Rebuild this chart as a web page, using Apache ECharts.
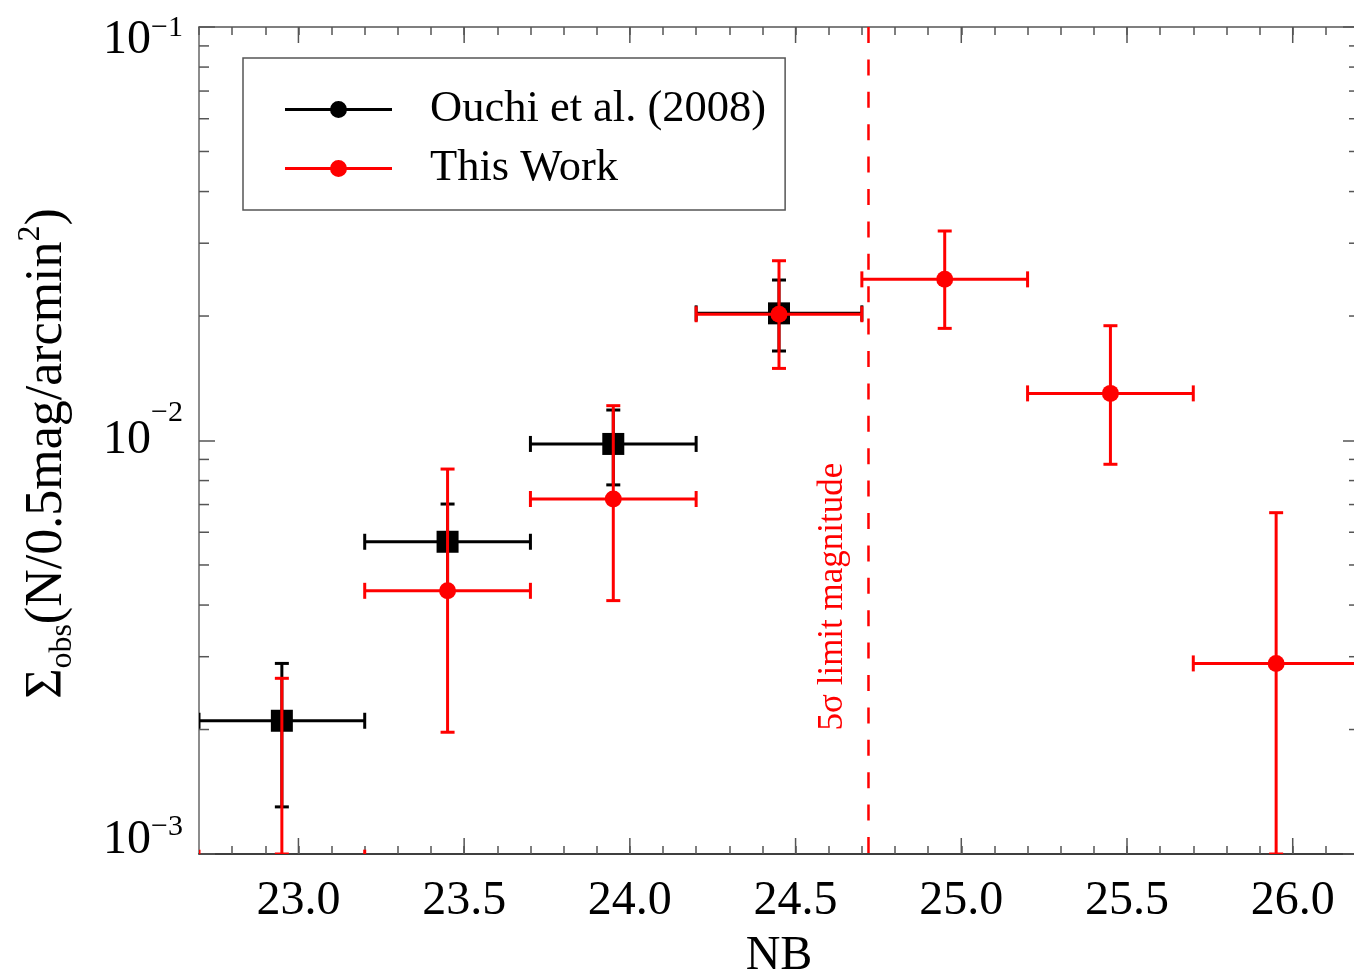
<!DOCTYPE html>
<html>
<head>
<meta charset="utf-8">
<script src="https://cdn.jsdelivr.net/npm/echarts@6/dist/echarts.min.js"></script>
<style>
  html, body { margin: 0; padding: 0; background: #fff; }
  #chart { width: 1354px; height: 976px; }
</style>
</head>
<body>
<div id="chart"></div>
<script>
// ---------------- data ----------------
const ouchiMag   = [22.95, 23.45, 23.95, 24.45];
const ouchiMagLo = [22.70, 23.20, 23.70, 24.20];
const ouchiMagHi = [23.20, 23.70, 24.20, 24.70];
const ouchiVal   = [0.00210, 0.00569, 0.00981, 0.02030];
const ouchiHi    = [0.00289, 0.00702, 0.01185, 0.02444];
const ouchiLo    = [0.00130, 0.00436, 0.00781, 0.01646];

const thisMag   = [22.95, 23.45, 23.95, 24.45, 24.95, 25.45, 25.95];
const thisMagLo = [22.70, 23.20, 23.70, 24.20, 24.70, 25.20, 25.70];
const thisMagHi = [23.20, 23.70, 24.20, 24.70, 25.20, 25.70, 26.20];
const thisVal   = [0.00098, 0.00433, 0.00722, 0.02020, 0.02453, 0.01300, 0.00289];
const thisHi    = [0.00266, 0.00853, 0.01214, 0.02721, 0.03211, 0.01895, 0.00669];
const thisLo    = [0.00100, 0.00197, 0.00410, 0.01494, 0.01867, 0.00876, 0.00100];

const limitMag = 24.72;          // 5 sigma limit magnitude
const limitLabelY = 0.00199;     // where the rotated label starts

const xMajorTicks = [23.0, 23.5, 24.0, 24.5, 25.0, 25.5, 26.0];
const yMinorTicks = [0.002, 0.003, 0.004, 0.005, 0.006, 0.007, 0.008, 0.009,
                     0.02, 0.03, 0.04, 0.05, 0.06, 0.07, 0.08, 0.09];
const X_MIN = 22.7, X_MAX = 26.2, Y_MIN = 0.001, Y_MAX = 0.1;

// ---------------- chart ----------------
const FONT = "'Liberation Serif', 'DejaVu Serif', serif";
const TICK = '#555';
const chart = echarts.init(document.getElementById('chart'), null, { renderer: 'canvas' });

function rows(mag, val, hi, lo, mlo, mhi) {
  return mag.map((m, i) => [m, val[i], hi[i], lo[i], mlo[i], mhi[i]]);
}

function errRender(color, symbol) {
  const CAP = 7;
  return function (params, api) {
    const cs = params.coordSys;
    const m = api.value(0), v = api.value(1), hi = api.value(2), lo = api.value(3);
    const ml = api.value(4), mh = api.value(5);
    const c = api.coord([m, v]);
    const cH = api.coord([m, hi]);
    const cL = api.coord([m, lo]);
    const pl = api.coord([ml, v]);
    const pr = api.coord([mh, v]);
    const st = { stroke: color, lineWidth: 3, fill: null };
    const ch = [
      { type: 'line', shape: { x1: c[0], y1: cH[1], x2: c[0], y2: cL[1] }, style: st },
      { type: 'line', shape: { x1: c[0] - CAP, y1: cH[1], x2: c[0] + CAP, y2: cH[1] }, style: st },
      { type: 'line', shape: { x1: c[0] - CAP, y1: cL[1], x2: c[0] + CAP, y2: cL[1] }, style: st },
      { type: 'line', shape: { x1: pl[0], y1: c[1], x2: pr[0], y2: c[1] }, style: st },
      { type: 'line', shape: { x1: pl[0], y1: c[1] - CAP - 1, x2: pl[0], y2: c[1] + CAP + 1 }, style: st },
      { type: 'line', shape: { x1: pr[0], y1: c[1] - CAP - 1, x2: pr[0], y2: c[1] + CAP + 1 }, style: st }
    ];
    const inside = c[1] >= cs.y - 0.5 && c[1] <= cs.y + cs.height + 0.5;
    if (inside) {
      if (symbol === 'square') {
        ch.push({ type: 'rect', shape: { x: c[0] - 11, y: c[1] - 11, width: 22, height: 22 }, style: { fill: color } });
      } else {
        ch.push({ type: 'circle', shape: { cx: c[0], cy: c[1], r: 8.5 }, style: { fill: color } });
      }
    }
    return { type: 'group', children: ch };
  };
}

const LEGEND_ICON = 'path://M0,7 L107,7 L107,10 L0,10 Z M45,8.5 A8.5,8.5 0 1 1 62,8.5 A8.5,8.5 0 1 1 45,8.5 Z';

const option = {
  backgroundColor: '#fff',
  animation: false,
  grid: { left: 199, top: 27, width: 1160, height: 827, containLabel: false, outerBoundsMode: 'none' },
  legend: {
    orient: 'vertical', left: 243, top: 58,
    padding: [29, 19, 19, 42], itemGap: 14,
    itemWidth: 107, itemHeight: 17,
    borderColor: '#555', borderWidth: 1.5, backgroundColor: '#fff',
    selectedMode: false,
    textStyle: { fontFamily: FONT, fontSize: 44.5, color: '#000', padding: [0, 0, 0, 33], lineHeight: 44 },
    data: [
      { name: 'Ouchi et al. (2008)', icon: LEGEND_ICON },
      { name: 'This Work', icon: LEGEND_ICON }
    ]
  },
  xAxis: [
    {
      type: 'value', position: 'bottom', min: X_MIN, max: X_MAX, interval: 0.1,
      name: 'NB', nameLocation: 'middle', nameGap: 78,
      nameTextStyle: { fontFamily: FONT, fontSize: 48, color: '#000' },
      axisLine: { show: true, lineStyle: { color: '#000', width: 1.5 } },
      axisTick: { show: true, inside: true, length: 8, lineStyle: { color: TICK, width: 1.5 } },
      splitLine: { show: false },
      axisLabel: {
        margin: 23, fontFamily: FONT, fontSize: 48, color: '#000', lineHeight: 48,
        showMinLabel: false, showMaxLabel: false,
        formatter: function (v) {
          return xMajorTicks.some(t => Math.abs(t - v) < 1e-6) ? v.toFixed(1) : '';
        }
      }
    },
    {
      type: 'value', position: 'top', min: X_MIN, max: X_MAX, interval: 0.1,
      axisLine: { show: true, lineStyle: { color: '#555', width: 1.5 } },
      axisTick: { show: true, inside: true, length: 8, lineStyle: { color: TICK, width: 1.5 } },
      axisLabel: { show: false }, splitLine: { show: false }
    }
  ],
  yAxis: [
    {
      type: 'log', logBase: 10, min: Y_MIN, max: Y_MAX, position: 'left',
      name: '{a|Σ}{sub|obs}{a|(N/0.5mag/arcmin}{sup|2}{a|)}',
      nameLocation: 'middle', nameGap: 120,
      nameTextStyle: {
        fontFamily: FONT, color: '#000', padding: [0, 26, 0, 0],
        rich: {
          a: { fontFamily: FONT, fontSize: 52, lineHeight: 64, color: '#000' },
          sub: { fontFamily: FONT, fontSize: 32, lineHeight: 64, verticalAlign: 'bottom', color: '#000' },
          sup: { fontFamily: FONT, fontSize: 32, lineHeight: 32, verticalAlign: 'top', color: '#000' }
        }
      },
      axisLine: { show: true, lineStyle: { color: '#666', width: 1.5 } },
      axisTick: { show: true, inside: true, length: 16, lineStyle: { color: TICK, width: 1.5 } },
      splitLine: { show: false },
      axisLabel: {
        margin: 16, color: '#000',
        formatter: function (v) {
          const e = Math.round(Math.log10(v));
          const k = v >= Y_MAX * 0.999 ? 't' : (v <= Y_MIN * 1.001 ? 'd' : 'm');
          return '{b' + k + '|10}{s' + k + '|−' + (-e) + '}';
        },
        rich: {
          bm: { fontFamily: FONT, fontSize: 48, lineHeight: 84, color: '#000' },
          sm: { fontFamily: FONT, fontSize: 30, lineHeight: 30, verticalAlign: 'top', color: '#000' },
          bt: { fontFamily: FONT, fontSize: 48, lineHeight: 80, color: '#000', padding: [26, 0, 0, 0] },
          st: { fontFamily: FONT, fontSize: 30, lineHeight: 30, verticalAlign: 'top', color: '#000', padding: [26, 0, 0, 0] },
          bd: { fontFamily: FONT, fontSize: 48, lineHeight: 84, color: '#000', padding: [0, 0, 28, 0] },
          sd: { fontFamily: FONT, fontSize: 30, lineHeight: 30, verticalAlign: 'top', color: '#000' }
        }
      }
    },
    {
      type: 'log', logBase: 10, min: Y_MIN, max: Y_MAX, position: 'right',
      axisLine: { show: true, lineStyle: { color: '#555', width: 1.5 } },
      axisTick: { show: true, inside: true, length: 16, lineStyle: { color: TICK, width: 1.5 } },
      axisLabel: { show: false }, splitLine: { show: false }
    }
  ],
  series: [
    {
      name: 'xMajorTicks', type: 'custom', silent: true, z: 1,
      data: xMajorTicks.map(v => [v, Y_MIN]),
      encode: { x: 0, y: 1 },
      renderItem: function (params, api) {
        const cs = params.coordSys;
        const px = api.coord([api.value(0), Y_MIN])[0];
        const st = { stroke: TICK, lineWidth: 1.5 };
        return { type: 'group', children: [
          { type: 'line', shape: { x1: px, y1: cs.y + cs.height, x2: px, y2: cs.y + cs.height - 16 }, style: st },
          { type: 'line', shape: { x1: px, y1: cs.y, x2: px, y2: cs.y + 16 }, style: st }
        ] };
      }
    },
    {
      name: 'yMinorTicks', type: 'custom', silent: true, z: 1,
      data: yMinorTicks.map(v => [X_MIN, v]),
      encode: { x: 0, y: 1 },
      renderItem: function (params, api) {
        const cs = params.coordSys;
        const py = api.coord([X_MIN, api.value(1)])[1];
        const st = { stroke: TICK, lineWidth: 1.5 };
        return { type: 'group', children: [
          { type: 'line', shape: { x1: cs.x, y1: py, x2: cs.x + 10, y2: py }, style: st },
          { type: 'line', shape: { x1: cs.x + cs.width - 10, y1: py, x2: cs.x + cs.width, y2: py }, style: st }
        ] };
      }
    },
    {
      name: 'limit', type: 'custom', silent: true, z: 2,
      data: [[limitMag, limitLabelY]],
      encode: { x: 0, y: 1 },
      renderItem: function (params, api) {
        const cs = params.coordSys;
        const p = api.coord([api.value(0), api.value(1)]);
        return { type: 'group', children: [
          { type: 'line', shape: { x1: p[0], y1: cs.y, x2: p[0], y2: cs.y + cs.height },
            style: { stroke: '#ff0000', lineWidth: 2.5, lineDash: [16, 16.4] } },
          { type: 'text', x: p[0] - 36, y: p[1], rotation: Math.PI / 2,
            style: { text: '5σ limit magnitude', fontFamily: FONT, fontSize: 35, fill: '#ff0000',
                     align: 'left', verticalAlign: 'middle' } }
        ] };
      }
    },
    {
      name: 'Ouchi et al. (2008)', type: 'custom', clip: true, z: 3,
      itemStyle: { color: '#000000' },
      data: rows(ouchiMag, ouchiVal, ouchiHi, ouchiLo, ouchiMagLo, ouchiMagHi),
      encode: { x: 0, y: 1 },
      renderItem: errRender('#000000', 'square')
    },
    {
      name: 'This Work', type: 'custom', clip: true, z: 4,
      itemStyle: { color: '#ff0000' },
      data: rows(thisMag, thisVal, thisHi, thisLo, thisMagLo, thisMagHi),
      encode: { x: 0, y: 1 },
      renderItem: errRender('#ff0000', 'circle')
    }
  ]
};
chart.setOption(option);
</script>
</body>
</html>
